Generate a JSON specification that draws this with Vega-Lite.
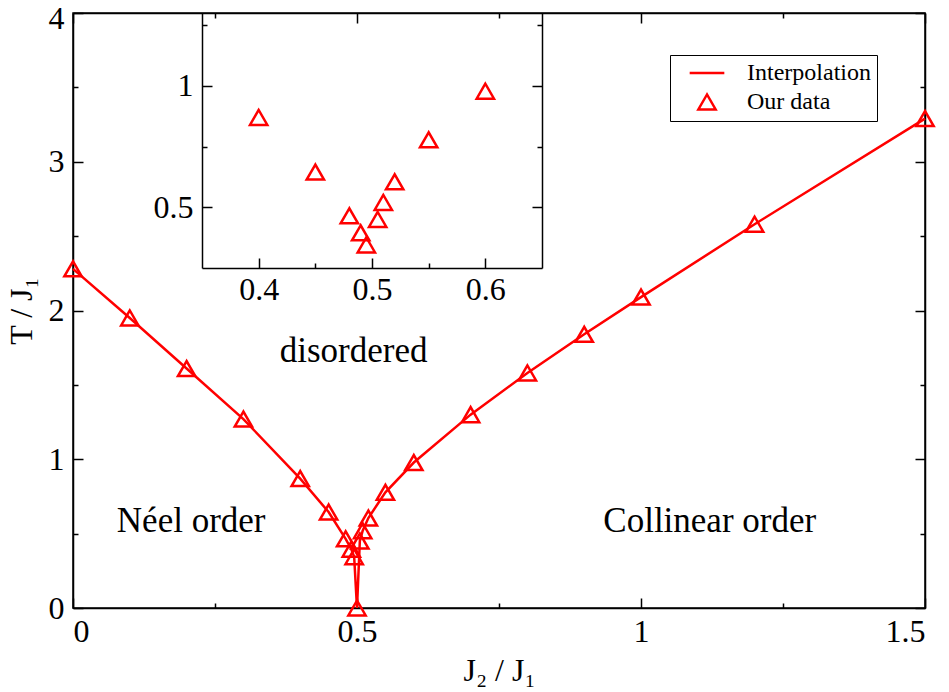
{
  "$schema": "https://vega.github.io/schema/vega-lite/v6.json",
  "width": 852,
  "height": 595,
  "autosize": "none",
  "padding": {"left": 73, "top": 13, "right": 24, "bottom": 84},
  "background": "white",
  "config": {
    "view": {"stroke": "black", "strokeWidth": 1.5},
    "font": "Liberation Serif",
    "text": {"font": "Liberation Serif"},
    "axis": {
      "labelFont": "Liberation Serif", "labelFontSize": 32, "labelColor": "black",
      "titleFont": "Liberation Serif", "titleFontSize": 32, "titleFontWeight": "normal", "titleColor": "black",
      "domainColor": "black", "domainWidth": 1.5, "tickColor": "black", "tickWidth": 1.5, "grid": false
    },
    "legend": {
      "labelFont": "Liberation Serif", "labelFontSize": 24, "labelColor": "black",
      "strokeColor": "black", "fillColor": "white", "padding": 6,
      "symbolSize": 300, "symbolStrokeWidth": 2.5, "symbolOpacity": 1, "symbolOffset": 19,
      "labelOffset": 28, "rowPadding": 4
    }
  },
  "datasets": {
    "main": [
      {"x": 0, "y": 2.28}, {"x": 0.1, "y": 1.95}, {"x": 0.2, "y": 1.61}, {"x": 0.3, "y": 1.27},
      {"x": 0.4, "y": 0.87}, {"x": 0.45, "y": 0.645}, {"x": 0.48, "y": 0.465}, {"x": 0.49, "y": 0.395},
      {"x": 0.495, "y": 0.345}, {"x": 0.5, "y": 0}, {"x": 0.505, "y": 0.45}, {"x": 0.51, "y": 0.52},
      {"x": 0.52, "y": 0.605}, {"x": 0.55, "y": 0.778}, {"x": 0.6, "y": 0.978}, {"x": 0.7, "y": 1.30},
      {"x": 0.8, "y": 1.58}, {"x": 0.9, "y": 1.84}, {"x": 1.0, "y": 2.09}, {"x": 1.2, "y": 2.58},
      {"x": 1.5, "y": 3.29}
    ],
    "labels": [
      {"x": 0.494, "y": 1.656, "t": "disordered"},
      {"x": 0.208, "y": 0.511, "t": "Néel order"},
      {"x": 1.121, "y": 0.513, "t": "Collinear order"}
    ]
  },
  "data": {"name": "main"},
  "resolve": {"scale": {"x": "independent", "y": "independent"}},
  "layer": [
    {
      "mark": {"type": "line", "strokeWidth": 2.5},
      "encoding": {
        "x": {"field": "x", "type": "quantitative", "scale": {"domain": [0, 1.5], "nice": false, "zero": false},
              "axis": {"orient": "bottom", "values": [0, 0.5, 1, 1.5], "format": "~g", "tickSize": -10, "labelPadding": 18, "labelFont": "Liberation Serif", "title": "J₂ / J₁", "titlePadding": 8}},
        "y": {"field": "y", "type": "quantitative", "scale": {"domain": [0, 4], "nice": false, "zero": false},
              "axis": {"orient": "left", "values": [0, 1, 2, 3, 4], "format": "d", "tickSize": -10, "labelPadding": 19, "labelFont": "Liberation Serif",
                       "labelOffset": {"condition": {"test": "datum.value == 4", "value": 5}, "value": 0},
                       "title": "T / J₁", "titlePadding": 10}},
        "color": {"datum": "Interpolation", "scale": {"domain": ["Interpolation", "Our data"], "range": ["#ff0000", "#ff0000"]},
                  "legend": {"title": null, "orient": "none", "legendX": 597, "legendY": 42, "labelFont": "Liberation Serif"}}
      }
    },
    {
      "mark": {"type": "point", "filled": false, "strokeWidth": 2.5, "size": 300, "opacity": 1},
      "encoding": {
        "x": {"field": "x", "type": "quantitative", "scale": {"domain": [0, 1.5], "nice": false, "zero": false},
              "axis": {"orient": "top", "values": [0, 0.5, 1, 1.5], "tickSize": -10, "labels": false, "title": null}},
        "y": {"field": "y", "type": "quantitative", "scale": {"domain": [0, 4], "nice": false, "zero": false},
              "axis": {"orient": "right", "values": [0, 1, 2, 3, 4], "tickSize": -10, "labels": false, "title": null}},
        "color": {"datum": "Our data"},
        "shape": {"datum": "Our data", "scale": {"domain": ["Interpolation", "Our data"], "range": ["M-2,0H2", "triangle-up"]},
                  "legend": {"title": null, "orient": "none", "legendX": 597, "legendY": 42, "labelFont": "Liberation Serif"}}
      }
    },
    {
      "mark": {"type": "point", "opacity": 0},
      "encoding": {
        "x": {"field": "x", "type": "quantitative", "scale": {"domain": [0, 1.5], "nice": false, "zero": false},
              "axis": {"orient": "bottom", "values": [0.25, 0.75, 1.25], "tickSize": -5, "labels": false, "domain": false, "title": null}},
        "y": {"field": "y", "type": "quantitative", "scale": {"domain": [0, 4], "nice": false, "zero": false},
              "axis": {"orient": "left", "values": [0.5, 1.5, 2.5, 3.5], "tickSize": -5, "labels": false, "domain": false, "title": null}}
      }
    },
    {
      "mark": {"type": "point", "opacity": 0},
      "encoding": {
        "x": {"field": "x", "type": "quantitative", "scale": {"domain": [0, 1.5], "nice": false, "zero": false},
              "axis": {"orient": "top", "values": [0.25, 0.75, 1.25], "tickSize": -5, "labels": false, "domain": false, "title": null}},
        "y": {"field": "y", "type": "quantitative", "scale": {"domain": [0, 4], "nice": false, "zero": false},
              "axis": {"orient": "right", "values": [0.5, 1.5, 2.5, 3.5], "tickSize": -5, "labels": false, "domain": false, "title": null}}
      }
    },
    {
      "data": {"name": "labels"},
      "mark": {"type": "text", "font": "Liberation Serif", "fontSize": 35, "color": "black", "baseline": "alphabetic"},
      "encoding": {
        "x": {"field": "x", "type": "quantitative", "scale": {"domain": [0, 1.5], "nice": false, "zero": false}, "axis": null},
        "y": {"field": "y", "type": "quantitative", "scale": {"domain": [0, 4], "nice": false, "zero": false}, "axis": null},
        "text": {"field": "t"}
      }
    },
    {
      "transform": [{"filter": "datum.x >= 0.35 && datum.x <= 0.65 && datum.y >= 0.25"}],
      "mark": {"type": "point", "filled": false, "strokeWidth": 2.5, "size": 300, "opacity": 1},
      "encoding": {
        "x": {"field": "x", "type": "quantitative", "scale": {"domain": [0.35, 0.65], "range": [129, 469], "nice": false, "zero": false},
              "axis": {"orient": "bottom", "offset": -340, "values": [0.4, 0.5, 0.6], "format": "~g", "tickSize": -10, "labelPadding": 16, "labelFont": "Liberation Serif", "title": null}},
        "y": {"field": "y", "type": "quantitative", "scale": {"domain": [0.25, 1.3], "range": [255, 0], "nice": false, "zero": false},
              "axis": {"orient": "left", "offset": -129, "values": [0.5, 1], "format": "~g", "tickSize": -10, "labelPadding": 19, "labelFont": "Liberation Serif", "title": null}},
        "color": {"datum": "Our data"},
        "shape": {"datum": "Our data"}
      }
    },
    {
      "mark": {"type": "point", "opacity": 0},
      "encoding": {
        "x": {"field": "x", "type": "quantitative", "scale": {"domain": [0.35, 0.65], "range": [129, 469], "nice": false, "zero": false},
              "axis": {"orient": "bottom", "offset": -340, "values": [0.45, 0.55], "tickSize": -5, "labels": false, "domain": false, "title": null}},
        "y": {"field": "y", "type": "quantitative", "scale": {"domain": [0.25, 1.3], "range": [255, 0], "nice": false, "zero": false},
              "axis": {"orient": "left", "offset": -129, "values": [0.75, 1.25], "tickSize": -5, "labels": false, "domain": false, "title": null}}
      }
    },
    {
      "mark": {"type": "point", "opacity": 0},
      "encoding": {
        "y": {"field": "y", "type": "quantitative", "scale": {"domain": [0.25, 1.3], "range": [255, 0], "nice": false, "zero": false},
              "axis": {"orient": "right", "offset": -383, "values": [0.5, 1], "tickSize": -10, "labels": false, "title": null}}
      }
    },
    {
      "mark": {"type": "point", "opacity": 0},
      "encoding": {
        "y": {"field": "y", "type": "quantitative", "scale": {"domain": [0.25, 1.3], "range": [255, 0], "nice": false, "zero": false},
              "axis": {"orient": "right", "offset": -383, "values": [0.75, 1.25], "tickSize": -5, "labels": false, "domain": false, "title": null}}
      }
    }
  ]
}
